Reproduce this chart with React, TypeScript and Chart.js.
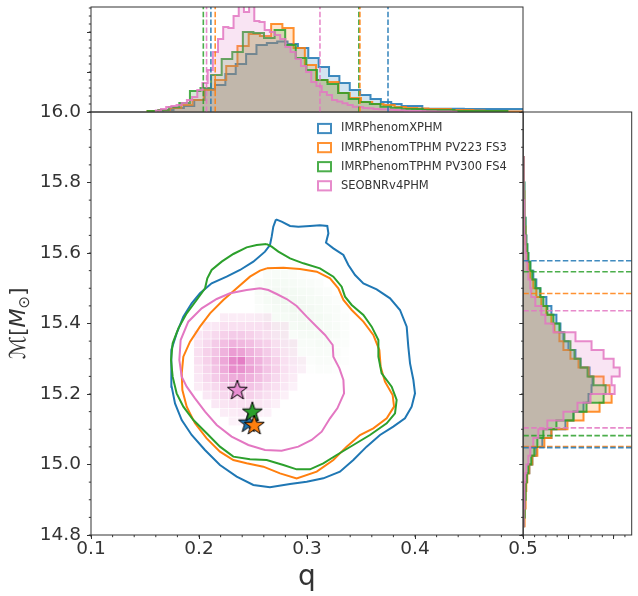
import { useEffect, useRef } from 'react';
import { Chart, registerables } from 'chart.js';

Chart.register(...registerables);

const SERIES = ['IMRPhenomXPHM', 'IMRPhenomTPHM PV223 FS3', 'IMRPhenomTPHM PV300 FS4', 'SEOBNRv4PHM'];
const COLORS = ['#1f77b4', '#ff7f0e', '#2ca02c', '#e377c2'];

const AXIS = '#333333';
const TEXT = '#333333';
const FONT = 'DejaVu Sans';

// axis ticks
const Q_TICKS = [0.1, 0.2, 0.3, 0.4, 0.5];
const MC_TICKS = [14.8, 15.0, 15.2, 15.4, 15.6, 15.8, 16.0];
const TOP_TICKS = [0, 40, 80];
const RIGHT_TICKS = [0, 45, 90];
const TOP_MAX = 105;
const RIGHT_MAX = 108;

// q marginal (top), arbitrary density units
const Q_HIST_START = [0.1572, 0.1524, 0.1524, 0.16];
const Q_HIST_WIDTH = [0.0096, 0.0104, 0.0098, 0.0048];
const Q_HIST_XPHM = [1, 2, 4, 6, 12, 23, 27, 38, 48, 58, 67, 69, 70.5, 68, 64, 54, 45, 36, 29, 22, 17, 13, 10, 8, 6, 6, 3.3, 3.3, 3.3, 3.3, 3, 3, 3, 3, 3, 3, 2.5];
const Q_HIST_FS3 = [1, 2, 4, 7, 12, 22, 32, 46, 66, 78, 76, 88, 84, 64, 47, 32, 30, 19, 14, 10, 8, 7, 5, 4, 3.5, 3, 3, 2, 2, 1.5, 1, 1, 0.5, 0.5];
const Q_HIST_FS4 = [1, 2, 4.7, 9, 21, 24, 37, 53, 60, 80, 79, 74, 82, 67, 54, 42, 32, 28, 19, 13, 10, 8, 5.3, 4.3, 3, 3, 2, 2, 2, 1, 1, 1, 1, 1];
const Q_HIST_SEOB = [1.5, 3, 5, 6, 7, 9, 12, 15, 22, 29, 42, 60, 73, 85, 84, 96, 110, 100, 110, 91, 90, 82, 80, 77, 73, 65, 60, 53, 46, 40, 30, 26, 20, 17, 12, 10.5, 8.7, 7, 5.3, 5, 4, 3.7, 3, 2.7, 2.7, 2.3, 2, 1.7, 1.3, 1, 1, 1, 0.8, 0.8, 0.6, 0.5, 0.4, 0.3];
const Q_BOUNDS = [[0.211, 0.375], [0.215, 0.349], [0.204, 0.348], [0.207, 0.312]];

// chirp mass marginal (right)
const MC_HIST_START = 14.825;
const MC_HIST_WIDTH = 0.025;
const MC_HIST_XPHM = [0.3, 0.7, 1, 1.5, 2.5, 3.5, 6, 9, 13, 19, 28, 42, 50, 60, 65, 68, 69, 66, 57, 52, 45, 40, 37, 33, 28, 23, 17, 13, 10, 7, 5, 4, 3, 2.5, 2, 1.5, 1.2, 1, 0.8, 0.5, 0.4, 0.3];
const MC_HIST_FS3 = [1, 1.5, 2, 2.5, 3, 4, 6, 9, 14, 21, 28, 44, 60, 76, 88, 86, 80, 65, 55, 47, 40, 36, 31, 28, 23, 18, 13, 10, 7, 5, 4, 3, 2.5, 2, 1.5, 1.2, 1, 0.8, 0.5, 0.4, 0.3, 0.2];
const MC_HIST_FS4 = [0.5, 1, 1.5, 2, 2.5, 3.5, 5, 8, 11, 14, 20, 33, 50, 63, 80, 82, 70, 64, 57, 51, 47, 41, 36, 30, 24, 20, 17, 12, 9, 7, 5, 4, 3, 2.5, 2, 1.5, 1.2, 1, 0.7, 0.5, 0.3, 0.2];
const MC_HIST_SEOB = [0.3, 0.5, 0.8, 1, 1.5, 2, 3, 5, 7, 10, 15, 24, 40, 54, 67, 91, 88, 96, 90, 80, 68, 52, 30, 22, 18, 12, 8, 7, 5, 4, 3, 2.5, 2, 1.5, 1.2, 1, 0.8, 0.6, 0.5, 0.4, 0.3, 0.2];
const MC_BOUNDS = [[15.048, 15.578], [15.051, 15.485], [15.082, 15.547], [15.104, 15.436]];

// 90% credible contours [q, Mc]
const CONTOUR_XPHM = [
  [0.2713, 15.6955], [0.2765, 15.6889], [0.2843, 15.6766], [0.292, 15.6747], [0.3028, 15.6766], [0.312, 15.6785],
  [0.3188, 15.6766], [0.3198, 15.6558], [0.3176, 15.6293], [0.3244, 15.6132], [0.3337, 15.5943], [0.3383, 15.566],
  [0.3445, 15.5376], [0.3522, 15.5139], [0.3645, 15.4969], [0.3769, 15.4714], [0.3861, 15.4383], [0.3923, 15.391],
  [0.3938, 15.3343], [0.3954, 15.287], [0.3985, 15.2397], [0.4, 15.2019], [0.3969, 15.1641], [0.3907, 15.131],
  [0.3799, 15.1073], [0.3676, 15.0837], [0.3552, 15.0506], [0.3429, 15.0128], [0.3305, 14.9797], [0.3151, 14.9607],
  [0.2997, 14.9513], [0.2843, 14.9447], [0.2657, 14.9352], [0.2503, 14.9418], [0.2349, 14.9655], [0.2194, 14.9986],
  [0.2055, 15.0411], [0.1932, 15.0837], [0.184, 15.1262], [0.1778, 15.1735], [0.1747, 15.2208], [0.1741, 15.2775],
  [0.1747, 15.3248], [0.1793, 15.3721], [0.1855, 15.4194], [0.1932, 15.4572], [0.2009, 15.4856], [0.2117, 15.514],
  [0.2256, 15.5329], [0.238, 15.5518], [0.2503, 15.5754], [0.2611, 15.6038], [0.2657, 15.6227], [0.2673, 15.6463],
  [0.2688, 15.6747],
];
const CONTOUR_FS3 = [
  [0.2627, 15.5565], [0.2781, 15.5584], [0.2935, 15.5546], [0.309, 15.547], [0.3213, 15.5281], [0.329, 15.4998],
  [0.3337, 15.4667], [0.3414, 15.4383], [0.3522, 15.4052], [0.3614, 15.3674], [0.367, 15.3248], [0.3682, 15.2775],
  [0.3722, 15.235], [0.3793, 15.1972], [0.3806, 15.1641], [0.3738, 15.131], [0.3614, 15.1026], [0.3491, 15.0837],
  [0.3367, 15.0506], [0.3244, 15.0128], [0.309, 14.9797], [0.2904, 14.9607], [0.275, 14.9749], [0.2596, 14.9939],
  [0.2441, 15.0033], [0.2318, 15.0128], [0.2194, 15.0364], [0.2071, 15.0742], [0.1963, 15.1168], [0.1886, 15.1641],
  [0.1846, 15.2113], [0.184, 15.2586], [0.1855, 15.3059], [0.1917, 15.3485], [0.2009, 15.391], [0.2102, 15.4288],
  [0.2225, 15.4667], [0.2349, 15.4998], [0.2472, 15.5329], [0.2565, 15.5499],
];
const CONTOUR_FS4 = [
  [0.2627, 15.6255], [0.2534, 15.6227], [0.2441, 15.6161], [0.2318, 15.5972], [0.221, 15.5754], [0.2117, 15.5518],
  [0.2077, 15.5281], [0.2056, 15.4998], [0.1978, 15.4667], [0.1886, 15.4288], [0.1809, 15.3863], [0.1756, 15.3437],
  [0.1741, 15.2964], [0.1756, 15.2492], [0.1793, 15.2019], [0.1855, 15.1641], [0.1948, 15.1262], [0.2071, 15.0885],
  [0.2194, 15.0506], [0.2318, 15.0222], [0.2472, 15.0147], [0.2627, 15.0128], [0.2781, 14.9986], [0.2904, 14.9863],
  [0.3028, 14.9863], [0.3151, 15.0033], [0.3275, 15.027], [0.3429, 15.0553], [0.3583, 15.0837], [0.3738, 15.1168],
  [0.3815, 15.1452], [0.383, 15.183], [0.3784, 15.2208], [0.3691, 15.2586], [0.3661, 15.3059], [0.3661, 15.3532],
  [0.3599, 15.391], [0.3522, 15.4241], [0.3414, 15.4525], [0.3352, 15.4761], [0.3321, 15.5045], [0.3244, 15.5329],
  [0.312, 15.5565], [0.2966, 15.5707], [0.2843, 15.5849], [0.2735, 15.6038], [0.2673, 15.618],
];
const CONTOUR_SEOB = [
  [0.2565, 15.4998], [0.2441, 15.495], [0.2287, 15.4856], [0.2164, 15.4695], [0.2025, 15.443], [0.1901, 15.4052],
  [0.183, 15.3532], [0.1818, 15.2964], [0.184, 15.2492], [0.1886, 15.2208], [0.1963, 15.1877], [0.2056, 15.1499],
  [0.2164, 15.1121], [0.2302, 15.079], [0.2457, 15.0553], [0.2611, 15.0411], [0.2765, 15.0392], [0.292, 15.0506],
  [0.3043, 15.0695], [0.3136, 15.0931], [0.3213, 15.131], [0.3281, 15.1594], [0.3343, 15.2019], [0.3337, 15.2397],
  [0.33, 15.2728], [0.3244, 15.3059], [0.3238, 15.339], [0.3167, 15.3674], [0.309, 15.391], [0.2997, 15.4194],
  [0.2904, 15.4496], [0.2812, 15.4695], [0.2719, 15.4837], [0.2642, 15.495],
];

// maximum-likelihood points
const STAR_Q = [0.2457, 0.2512, 0.2494, 0.2355];
const STAR_MC = [15.1186, 15.112, 15.1498, 15.2113];

// 2D density (relative), rows from high Mc to low Mc
const PINK_HEAT_Q0 = 0.1954;
const PINK_HEAT_DQ = 0.00802;
const PINK_HEAT_MC0 = 15.4289;
const PINK_HEAT_DMC = 0.0246;
const PINK_HEAT = [
  [0, 0, 0, 0.08, 0.08, 0.08, 0.08, 0.08, 0.08, 0, 0, 0, 0, 0],
  [0, 0.1, 0.1, 0.15, 0.15, 0.15, 0.15, 0.15, 0.15, 0.08, 0.08, 0, 0, 0],
  [0.1, 0.15, 0.2, 0.25, 0.3, 0.3, 0.25, 0.2, 0.15, 0.1, 0.08, 0, 0, 0],
  [0.12, 0.2, 0.3, 0.4, 0.5, 0.45, 0.4, 0.3, 0.25, 0.15, 0.1, 0.08, 0, 0],
  [0.15, 0.25, 0.35, 0.5, 0.7, 0.65, 0.5, 0.4, 0.3, 0.2, 0.12, 0.08, 0, 0],
  [0.15, 0.25, 0.4, 0.6, 0.9, 1, 0.6, 0.5, 0.35, 0.25, 0.15, 0.1, 0.06, 0],
  [0.12, 0.22, 0.35, 0.55, 0.85, 0.8, 0.65, 0.5, 0.35, 0.25, 0.15, 0.1, 0.05, 0],
  [0.1, 0.2, 0.3, 0.45, 0.55, 0.6, 0.5, 0.4, 0.3, 0.2, 0.12, 0.08, 0, 0],
  [0.08, 0.15, 0.2, 0.3, 0.35, 0.4, 0.35, 0.3, 0.2, 0.15, 0.1, 0.05, 0, 0],
  [0, 0.1, 0.15, 0.2, 0.25, 0.25, 0.25, 0.2, 0.15, 0.1, 0.06, 0, 0, 0],
  [0, 0, 0.1, 0.12, 0.15, 0.15, 0.15, 0.12, 0.1, 0.06, 0, 0, 0, 0],
  [0, 0, 0, 0.07, 0.08, 0.1, 0.08, 0.06, 0.05, 0, 0, 0, 0, 0],
  [0, 0, 0, 0, 0.05, 0.05, 0.04, 0, 0, 0, 0, 0, 0, 0],
];
const GREEN_HEAT_Q0 = 0.2515;
const GREEN_HEAT_DQ = 0.00802;
const GREEN_HEAT_MC0 = 15.5519;
const GREEN_HEAT_DMC = 0.0246;
const GREEN_HEAT = [
  [0, 0.3, 0.4, 0.4, 0.3, 0.2, 0.1, 0, 0, 0, 0],
  [0.3, 0.5, 0.6, 0.6, 0.5, 0.4, 0.3, 0.2, 0, 0, 0],
  [0.4, 0.6, 0.8, 0.8, 0.7, 0.6, 0.5, 0.3, 0.2, 0, 0],
  [0.3, 0.6, 0.8, 1, 0.9, 0.8, 0.6, 0.5, 0.3, 0.2, 0],
  [0.2, 0.4, 0.6, 0.8, 1, 0.9, 0.8, 0.6, 0.4, 0.3, 0.1],
  [0.1, 0.3, 0.5, 0.6, 0.8, 0.9, 0.8, 0.7, 0.5, 0.3, 0.2],
  [0, 0.2, 0.3, 0.4, 0.6, 0.7, 0.7, 0.6, 0.5, 0.4, 0.2],
  [0, 0.1, 0.2, 0.3, 0.4, 0.5, 0.6, 0.6, 0.5, 0.4, 0.2],
  [0, 0, 0.1, 0.2, 0.3, 0.4, 0.4, 0.5, 0.5, 0.3, 0.2],
  [0, 0, 0, 0.1, 0.2, 0.3, 0.3, 0.4, 0.4, 0.3, 0.1],
  [0, 0, 0, 0, 0.1, 0.2, 0.2, 0.3, 0.3, 0.2, 0.1],
  [0, 0, 0, 0, 0, 0.1, 0.1, 0.2, 0.2, 0.1, 0],
];

function rgba(hex: string, a: number) {
  const n = parseInt(hex.slice(1), 16);
  return `rgba(${(n >> 16) & 255}, ${(n >> 8) & 255}, ${n & 255}, ${a})`;
}

// outline of a step histogram, closed down to zero at both ends
function stepOutline(start: number, width: number, values: number[]) {
  const pts: { e: number; v: number }[] = [{ e: start, v: 0 }];
  values.forEach((v, i) => {
    pts.push({ e: start + i * width, v }, { e: start + (i + 1) * width, v });
  });
  pts.push({ e: start + values.length * width, v: 0 });
  return pts;
}

function span(a: number, b: number, step: number) {
  const out: number[] = [];
  for (let v = a; v <= b + 1e-9; v += step) out.push(+v.toFixed(5));
  return out;
}

const fixedTicks = (vals: number[]) => (s: any) => {
  s.ticks = vals.map((value) => ({ value }));
};

const tickGrid = { display: true, drawOnChartArea: false, drawTicks: true, tickLength: 4, color: AXIS, lineWidth: 1 };

function makeStar(fill: string) {
  const c = document.createElement('canvas');
  c.width = 26;
  c.height = 26;
  const ctx = c.getContext('2d')!;
  ctx.translate(13, 13.5);
  ctx.beginPath();
  for (let i = 0; i < 10; i++) {
    const r = i % 2 === 0 ? 10.5 : 4.1;
    const a = -Math.PI / 2 + (i * Math.PI) / 5;
    if (i === 0) ctx.moveTo(r * Math.cos(a), r * Math.sin(a));
    else ctx.lineTo(r * Math.cos(a), r * Math.sin(a));
  }
  ctx.closePath();
  ctx.fillStyle = fill;
  ctx.fill();
  ctx.strokeStyle = '#000';
  ctx.lineWidth = 1;
  ctx.stroke();
  return c;
}

// frame + minor ticks
function decorPlugin(minor: { axis: string; side: 'left' | 'bottom'; values: number[] }[]) {
  return {
    id: 'decor',
    afterDraw(chart: any) {
      const { ctx, chartArea: a } = chart;
      ctx.save();
      ctx.strokeStyle = AXIS;
      ctx.lineWidth = 1;
      ctx.strokeRect(a.left, a.top, a.right - a.left, a.bottom - a.top);
      minor.forEach((m) => {
        const s = chart.scales[m.axis];
        m.values.forEach((v) => {
          const p = s.getPixelForValue(v);
          ctx.beginPath();
          if (m.side === 'left') {
            ctx.moveTo(a.left, p);
            ctx.lineTo(a.left - 2.2, p);
          } else {
            ctx.moveTo(p, a.bottom);
            ctx.lineTo(p, a.bottom + 2.2);
          }
          ctx.stroke();
        });
      });
      ctx.restore();
    },
  };
}

function drawHeat(ctx: any, x: any, y: any, q0: number, dq: number, mc0: number, dmc: number, cells: number[][], color: string, maxAlpha: number) {
  cells.forEach((row, j) =>
    row.forEach((v, k) => {
      if (!v) return;
      const x0 = x.getPixelForValue(q0 + k * dq);
      const x1 = x.getPixelForValue(q0 + (k + 1) * dq);
      const y0 = y.getPixelForValue(mc0 - j * dmc);
      const y1 = y.getPixelForValue(mc0 - (j + 1) * dmc);
      // colour map: slightly lifted mid tones
      ctx.fillStyle = rgba(color, maxAlpha * Math.pow(v, 0.75));
      ctx.fillRect(x0, y0, x1 - x0 - 0.6, y1 - y0 - 0.6);
    })
  );
}

const heatPlugin = {
  id: 'heat',
  beforeDatasetsDraw(chart: any) {
    const { ctx, chartArea: a, scales } = chart;
    ctx.save();
    ctx.beginPath();
    ctx.rect(a.left, a.top, a.right - a.left, a.bottom - a.top);
    ctx.clip();
    drawHeat(ctx, scales.x, scales.y, GREEN_HEAT_Q0, GREEN_HEAT_DQ, GREEN_HEAT_MC0, GREEN_HEAT_DMC, GREEN_HEAT, COLORS[2], 0.07);
    drawHeat(ctx, scales.x, scales.y, PINK_HEAT_Q0, PINK_HEAT_DQ, PINK_HEAT_MC0, PINK_HEAT_DMC, PINK_HEAT, COLORS[3], 0.95);
    ctx.restore();
  },
};

const legendPlugin = {
  id: 'legendBox',
  afterDatasetsDraw(chart: any) {
    const { ctx, chartArea: a } = chart;
    ctx.save();
    ctx.font = `11.5px ${FONT}`;
    ctx.textBaseline = 'middle';
    SERIES.forEach((name, i) => {
      const cy = a.top + 16.5 + i * 19.1;
      ctx.strokeStyle = rgba(COLORS[i], 0.85);
      ctx.lineWidth = 2;
      ctx.strokeRect(a.right - 205, cy - 4.6, 13, 9.2);
      ctx.fillStyle = TEXT;
      ctx.fillText(name, a.right - 182, cy);
    });
    ctx.restore();
  },
};

const yLabelPlugin = {
  id: 'ylabel',
  afterDraw(chart: any) {
    const { ctx, chartArea: a } = chart;
    const parts = [
      { t: '\u2133', f: `22px ${FONT}`, dy: 0 },
      { t: '[', f: `22px ${FONT}`, dy: 0 },
      { t: 'M', f: `italic 22px ${FONT}`, dy: 0 },
      { t: '\u2299', f: `15px ${FONT}`, dy: 4 },
      { t: ']', f: `22px ${FONT}`, dy: 0 },
    ];
    ctx.save();
    ctx.fillStyle = TEXT;
    ctx.textBaseline = 'alphabetic';
    let total = 0;
    parts.forEach((p) => {
      ctx.font = p.f;
      total += ctx.measureText(p.t).width;
    });
    ctx.translate(25, (a.top + a.bottom) / 2);
    ctx.rotate(-Math.PI / 2);
    let x = -total / 2;
    parts.forEach((p) => {
      ctx.font = p.f;
      ctx.fillText(p.t, x, p.dy);
      x += ctx.measureText(p.t).width;
    });
    ctx.restore();
  },
};

export default function App() {
  const mainRef = useRef<HTMLCanvasElement>(null);
  const topRef = useRef<HTMLCanvasElement>(null);
  const rightRef = useRef<HTMLCanvasElement>(null);

  useEffect(() => {
    if (!mainRef.current || !topRef.current || !rightRef.current) return;
    Chart.defaults.font.family = FONT;

    const qHists = [Q_HIST_XPHM, Q_HIST_FS3, Q_HIST_FS4, Q_HIST_SEOB];
    const mcHists = [MC_HIST_XPHM, MC_HIST_FS3, MC_HIST_FS4, MC_HIST_SEOB];
    const contours = [CONTOUR_XPHM, CONTOUR_FS3, CONTOUR_FS4, CONTOUR_SEOB];

    const topChart = new Chart(topRef.current, {
      type: 'line',
      data: {
        datasets: [
          ...qHists.map((vals, i) => ({
            data: stepOutline(Q_HIST_START[i], Q_HIST_WIDTH[i], vals).map((p) => ({ x: p.e, y: p.v })),
            borderColor: rgba(COLORS[i], 0.85),
            backgroundColor: rgba(COLORS[i], 0.2),
            borderWidth: 2,
            fill: 'origin',
            order: 5 - i,
          })),
          ...Q_BOUNDS.flatMap((b, i) =>
            b.map((q) => ({
              data: [{ x: q, y: 0 }, { x: q, y: TOP_MAX }],
              borderColor: rgba(COLORS[i], 0.85),
              borderWidth: 1.6,
              borderDash: [5.5, 2.4],
              fill: false,
              order: 0,
            }))
          ),
        ],
      } as any,
      options: {
        animation: false,
        responsive: false,
        events: [],
        layout: { padding: { left: 0, top: 7, right: 115, bottom: 1 } },
        elements: { point: { radius: 0 }, line: { tension: 0 } },
        plugins: { legend: { display: false }, tooltip: { enabled: false } },
        scales: {
          x: { type: 'linear', min: 0.1, max: 0.5, display: false },
          y: {
            type: 'linear',
            min: 0,
            max: TOP_MAX,
            afterBuildTicks: fixedTicks(TOP_TICKS),
            afterFit: (s: any) => {
              s.width = 91;
            },
            ticks: { display: false },
            grid: tickGrid,
            border: { display: false },
          },
        },
      } as any,
      plugins: [decorPlugin([{ axis: 'y', side: 'left', values: span(0, TOP_MAX, 8) }])],
    });

    const rightChart = new Chart(rightRef.current, {
      type: 'line',
      data: {
        datasets: [
          ...mcHists.map((vals, i) => ({
            data: stepOutline(MC_HIST_START, MC_HIST_WIDTH, vals).map((p) => ({ x: p.v, y: p.e })),
            borderColor: rgba(COLORS[i], 0.85),
            backgroundColor: rgba(COLORS[i], 0.2),
            borderWidth: 2,
            fill: 'origin',
            order: 5 - i,
          })),
          ...MC_BOUNDS.flatMap((b, i) =>
            b.map((mc) => ({
              data: [{ x: 0, y: mc }, { x: RIGHT_MAX, y: mc }],
              borderColor: rgba(COLORS[i], 0.85),
              borderWidth: 1.6,
              borderDash: [5.5, 2.4],
              fill: false,
              order: 0,
            }))
          ),
        ],
      } as any,
      options: {
        animation: false,
        responsive: false,
        events: [],
        indexAxis: 'y',
        layout: { padding: { left: 0, top: 12, right: 6.3, bottom: 0 } },
        elements: { point: { radius: 0 }, line: { tension: 0 } },
        plugins: { legend: { display: false }, tooltip: { enabled: false } },
        scales: {
          x: {
            type: 'linear',
            min: 0,
            max: RIGHT_MAX,
            afterBuildTicks: fixedTicks(RIGHT_TICKS),
            afterFit: (s: any) => {
              s.height = 15;
            },
            ticks: { display: false },
            grid: tickGrid,
            border: { display: false },
          },
          y: {
            type: 'linear',
            min: 14.8,
            max: 16.0,
            afterBuildTicks: fixedTicks(MC_TICKS),
            afterFit: (s: any) => {
              s.width = 10.3;
            },
            ticks: { display: false },
            grid: tickGrid,
            border: { display: false },
          },
        },
      } as any,
      plugins: [
        decorPlugin([
          { axis: 'y', side: 'left', values: span(14.8, 16.0, 0.05) },
          { axis: 'x', side: 'bottom', values: span(0, RIGHT_MAX, 11.25) },
        ]),
      ],
    });

    const starOrder = [4, 1, 2, 3];
    const mainChart = new Chart(mainRef.current, {
      type: 'scatter',
      data: {
        datasets: [
          ...contours.map((pts, i) => ({
            data: [...pts, pts[0]].map(([q, mc]) => ({ x: q, y: mc })),
            showLine: true,
            borderColor: COLORS[i],
            borderWidth: 2,
            pointRadius: 0,
            fill: false,
            order: 10 - i,
          })),
          ...STAR_Q.map((q, i) => ({
            data: [{ x: q, y: STAR_MC[i] }],
            pointStyle: makeStar(i === 3 ? '#e98fd3' : COLORS[i]),
            pointRadius: 10,
            order: starOrder[i],
          })),
        ],
      } as any,
      options: {
        animation: false,
        responsive: false,
        events: [],
        layout: { padding: { left: 0, top: 112, right: 115, bottom: 0 } },
        elements: { line: { tension: 0 } },
        plugins: { legend: { display: false }, tooltip: { enabled: false } },
        scales: {
          x: {
            type: 'linear',
            min: 0.1,
            max: 0.5,
            afterBuildTicks: fixedTicks(Q_TICKS),
            afterFit: (s: any) => {
              s.height = 61;
            },
            ticks: {
              color: TEXT,
              font: { family: FONT, size: 18.5, lineHeight: 1 },
              padding: 1,
              autoSkip: false,
              maxRotation: 0,
              callback: (v: any) => Number(v).toFixed(1),
            },
            grid: tickGrid,
            border: { display: false },
            title: {
              display: true,
              text: 'q',
              color: TEXT,
              font: { family: FONT, size: 28 },
              padding: { top: 0, bottom: 1 },
            },
          },
          y: {
            type: 'linear',
            min: 14.8,
            max: 16.0,
            afterBuildTicks: fixedTicks(MC_TICKS),
            afterFit: (s: any) => {
              s.width = 91;
            },
            ticks: {
              color: TEXT,
              font: { family: FONT, size: 18.5 },
              padding: 6,
              autoSkip: false,
              callback: (v: any) => Number(v).toFixed(1),
            },
            grid: tickGrid,
            border: { display: false },
          },
        },
      } as any,
      plugins: [
        heatPlugin,
        legendPlugin,
        yLabelPlugin,
        decorPlugin([
          { axis: 'y', side: 'left', values: span(14.8, 16.0, 0.05) },
          { axis: 'x', side: 'bottom', values: span(0.1, 0.5, 0.02) },
        ]),
      ],
    });

    return () => {
      topChart.destroy();
      rightChart.destroy();
      mainChart.destroy();
    };
  }, []);

  return (
    <div style={{ position: 'absolute', left: 0, top: 0, width: 638, height: 596, background: '#fff' }}>
      <canvas ref={mainRef} width={638} height={596} style={{ position: 'absolute', left: 0, top: 0, width: 638, height: 596 }} />
      <canvas ref={topRef} width={638} height={113} style={{ position: 'absolute', left: 0, top: 0, width: 638, height: 113 }} />
      <canvas ref={rightRef} width={125} height={450} style={{ position: 'absolute', left: 513, top: 100, width: 125, height: 450 }} />
    </div>
  );
}
